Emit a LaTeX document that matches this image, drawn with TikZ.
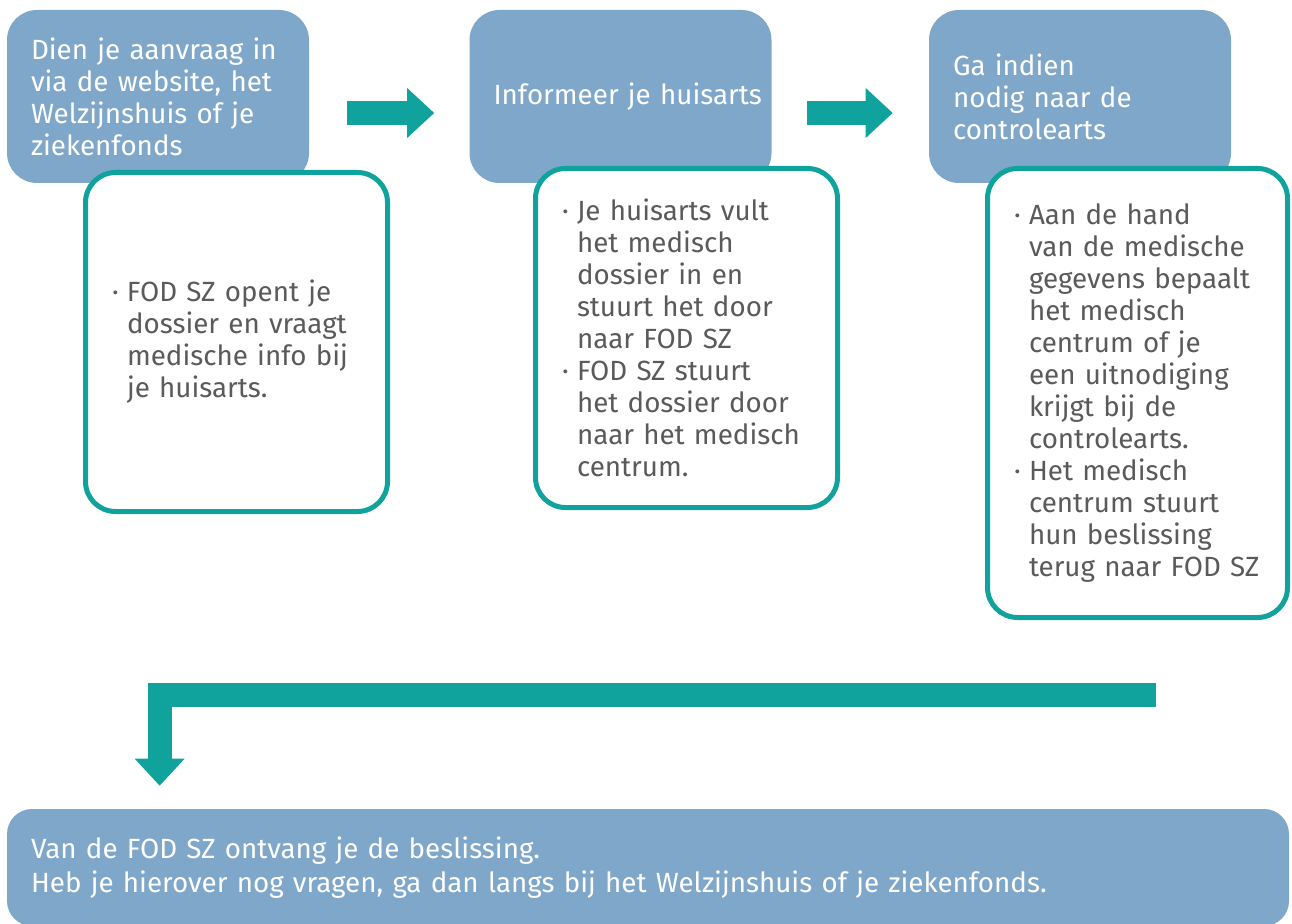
\documentclass[tikz,border=0pt]{standalone}
\usepackage{fontspec}
\setmainfont{Fira Sans}
\usetikzlibrary{arrows.meta}

\definecolor{stepblue}{HTML}{7FA7C9}
\definecolor{flowteal}{HTML}{10A39E}
\definecolor{bodygrey}{HTML}{5A5A5A}

\newcommand{\bul}{\makebox[0.3cm][l]{·}}
\newcommand{\ind}{\hspace*{0.3cm}}

\tikzset{
  stepbox/.style={rectangle, rounded corners=0.6cm, fill=stepblue, text=white,
    align=left, inner xsep=0.48cm, minimum height=3.46cm, minimum width=6.04cm,
    text width=5.08cm, font=\fontsize{15.8pt}{18.2pt}\selectfont},
  infobox/.style={rectangle, rounded corners=0.6cm, draw=flowteal, line width=0.1cm,
    fill=white, text=bodygrey, align=left, inner xsep=0.53cm, minimum width=6.04cm,
    text width=4.98cm, font=\fontsize{15.8pt}{18.2pt}\selectfont},
  blockarrow/.style={draw=flowteal, line width=0.48cm, line join=miter,
    -{Triangle[length=0.54cm, width=1cm, line width=0pt]}},
}

\begin{document}
\begin{tikzpicture}
  \useasboundingbox (0,0) rectangle (25.84,-18.48);
  % Nodes
  \node (step1) [stepbox] at (3.16, -1.93) {Dien je aanvraag in\\via de website, het\\Welzijnshuis of je\\ziekenfonds};
  \node (step2) [stepbox] at (12.41, -1.93) {\mbox{Informeer je huisarts}};
  \node (step3) [stepbox] at (21.6, -1.93) {Ga indien\\nodig naar de\\controlearts};
  \node (info1) [infobox, minimum height=6.78cm] at (4.73, -6.84) {\bul FOD SZ opent je\\\ind dossier en vraagt\\\ind medische info bij\\\ind je huisarts.};
  \node (info2) [infobox, minimum height=6.78cm] at (13.73, -6.76) {\bul Je huisarts vult\\\ind het medisch\\\ind dossier in en\\\ind stuurt het door\\\ind naar FOD SZ\\\bul FOD SZ stuurt\\\ind het dossier door\\\ind naar het medisch\\\ind centrum.};
  \node (info3) [infobox, minimum width=6cm, text width=4.94cm, minimum height=8.98cm] at (22.75, -7.86) {\bul Aan de hand\\\ind van de medische\\\ind gegevens bepaalt\\\ind het medisch\\\ind centrum of je\\\ind een uitnodiging\\\ind krijgt bij de\\\ind controlearts.\\\bul Het medisch\\\ind centrum stuurt\\\ind hun beslissing\\\ind terug naar FOD SZ};
  \node (result) [stepbox, rounded corners=0.5cm, minimum width=25.64cm, text width=24.68cm, minimum height=2.34cm, font=\fontsize{15.8pt}{19pt}\selectfont] at (12.96, -17.35) {Van de FOD SZ ontvang je de beslissing.\\Heb je hierover nog vragen, ga dan langs bij het Welzijnshuis of je ziekenfonds.};
  \coordinate (back) at (23.12, -13.9);
  % Arrow
  \draw[blockarrow, shorten <=0.76cm, shorten >=0.70cm] ([yshift=-0.33cm]step1.east) -- ([yshift=-0.33cm]step2.west);
  \draw[blockarrow, shorten <=0.70cm, shorten >=0.72cm] ([yshift=-0.33cm]step2.east) -- ([yshift=-0.33cm]step3.west);
  \draw[blockarrow, shorten >=0.46cm] (back) -| ([xshift=3.06cm]result.north west);
\end{tikzpicture}
\end{document}
